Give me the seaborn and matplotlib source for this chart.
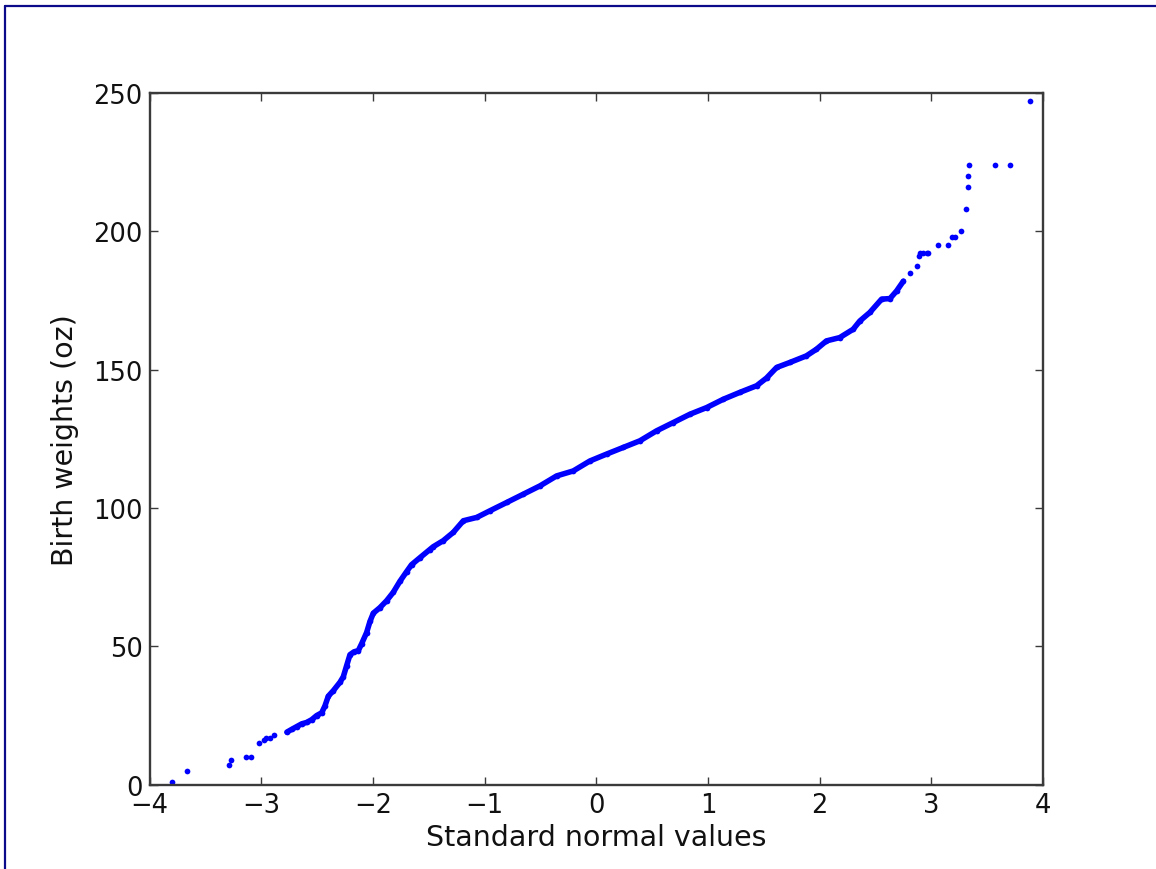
import matplotlib
matplotlib.use("Agg")
import matplotlib.pyplot as plt
from matplotlib.lines import Line2D
import seaborn as sns
import pandas as pd

# ---- data (normal probability plot) ----
tail_low_x = [-3.80, -3.66, -3.29, -3.27, -3.14, -3.09, -3.02, -2.975, -2.955, -2.92, -2.885]
tail_low_y = [1, 5, 7, 9, 10, 10, 15, 16, 17, 17, 18]

band_x = [-2.77, -2.727, -2.682, -2.637, -2.593, -2.548, -2.503, -2.458, -2.429, -2.399,
          -2.354, -2.295, -2.265, -2.235, -2.205, -2.17, -2.13, -2.10, -2.056, -2.026,
          -1.996, -1.937, -1.877, -1.818, -1.758, -1.698, -1.654, -1.58, -1.49, -1.46,
          -1.37, -1.28, -1.19, -1.07, -0.952, -0.802, -0.653, -0.504, -0.355, -0.206,
          -0.057, 0.093, 0.242, 0.391, 0.54, 0.69, 0.839, 0.988, 1.137, 1.286,
          1.436, 1.525, 1.615, 1.733, 1.882, 1.972, 2.061, 2.18, 2.30, 2.36,
          2.45, 2.555, 2.63, 2.69, 2.75]
band_y = [19, 20, 21, 22, 22.5, 23.5, 25, 26, 28.5, 32,
          34, 37, 39, 43, 47, 48, 48.5, 51, 55, 59,
          62, 64, 66.5, 69.5, 73.5, 77, 79.5, 82, 85, 86,
          88.2, 91.2, 95.4, 96.6, 99, 102, 105, 108, 111.6, 113.4,
          117, 119.5, 121.9, 124.3, 127.9, 130.9, 133.9, 136.3, 139.3, 141.8,
          144.2, 147, 150.8, 152.6, 155, 157.4, 160.4, 161.6, 164.6, 167.6,
          170.7, 175.5, 175.7, 178.5, 182]

tail_high_x = [2.808, 2.87, 2.886, 2.90, 2.93, 2.96, 2.97, 3.06, 3.15, 3.187, 3.21,
               3.27, 3.307, 3.327, 3.33, 3.339, 3.57, 3.706, 3.888]
tail_high_y = [185, 187.5, 191, 192, 192, 192, 192, 195, 195, 198, 198,
               200, 208, 216, 220, 224, 224, 224, 247]

x_ticks = [-4, -3, -2, -1, 0, 1, 2, 3, 4]
y_ticks = [0, 50, 100, 150, 200, 250]
x_label = "Standard normal values"
y_label = "Birth weights (oz)"

# ---- styling ----
sns.set_style("ticks")
plt.rcParams["font.family"] = ["DejaVu Sans"]

W, H, DPI = 1156, 870, 100
fig = plt.figure(figsize=(W / DPI, H / DPI), dpi=DPI, facecolor="white")
ax = fig.add_axes([149.5 / W, 1 - 785.7 / H, (1043 - 149.5) / W, (785.7 - 94) / H])

blue = "#0000ff"
band = pd.DataFrame({"x": band_x, "y": band_y})
points = pd.DataFrame({
    "x": tail_low_x + band_x + tail_high_x,
    "y": tail_low_y + band_y + tail_high_y,
})

sns.lineplot(data=band, x="x", y="y", sort=False, ax=ax, color=blue,
             linewidth=4.0, solid_capstyle="round", solid_joinstyle="round")
sns.scatterplot(data=points, x="x", y="y", ax=ax, color=blue, s=17,
                linewidth=0, marker="o")

ax.set_xlim(-4, 4)
ax.set_ylim(0, 250)
ax.set_xticks(x_ticks)
ax.set_yticks(y_ticks)
ax.set_xticklabels(["\u2212" + str(-t) if t < 0 else str(t) for t in x_ticks])
ax.set_yticklabels([str(t) for t in y_ticks])
ax.set_xlabel(x_label, fontsize=20.5, color="#111111", labelpad=4)
ax.set_ylabel(y_label, fontsize=20.5, color="#111111", labelpad=10)

for side in ["left", "right", "top", "bottom"]:
    ax.spines[side].set_visible(True)
    ax.spines[side].set_color("#3a3a3a")
    ax.spines[side].set_linewidth(1.7)

ax.tick_params(axis="both", which="major", direction="in", length=5.8, width=1.0,
               color="#3a3a3a", labelsize=18.5, labelcolor="#111111", pad=5,
               top=True, right=True)
ax.grid(False)
ax.set_facecolor("white")

# navy frame (left and top edges) around the figure
fig.add_artist(Line2D([5 / W, 5 / W], [0, 1 - 7 / H], transform=fig.transFigure,
                      color="#0a0a8a", linewidth=1.6))
fig.add_artist(Line2D([5 / W, 1], [1 - 7 / H, 1 - 7 / H], transform=fig.transFigure,
                      color="#0a0a8a", linewidth=1.6))

fig.savefig("out.png", dpi=DPI, facecolor="white")
